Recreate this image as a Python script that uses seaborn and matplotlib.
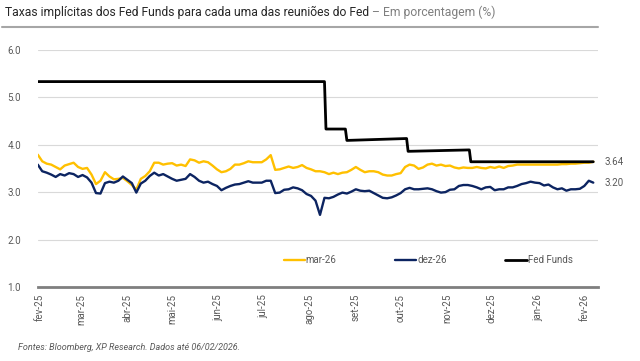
"""
Taxas implícitas dos Fed Funds (mar-26, dez-26) vs Fed Funds.
"""

import matplotlib
matplotlib.use("Agg")
import matplotlib.pyplot as plt
import matplotlib.ticker as mticker
import seaborn as sns
import pandas as pd

DATES = pd.date_range("2025-01-31", periods=125, freq="3D")

MAR26 = [3.79, 3.65, 3.60, 3.58, 3.53, 3.48, 3.56, 3.59, 3.62, 3.53,
         3.49, 3.51, 3.37, 3.17, 3.24, 3.42, 3.33, 3.27, 3.28, 3.30,
         3.23, 3.15, 3.05, 3.28, 3.34, 3.44, 3.62, 3.62, 3.58, 3.60,
         3.61, 3.56, 3.58, 3.55, 3.69, 3.67, 3.62, 3.65, 3.63, 3.56,
         3.48, 3.42, 3.44, 3.49, 3.58, 3.58, 3.61, 3.65, 3.63, 3.63,
         3.63, 3.69, 3.78, 3.47, 3.48, 3.51, 3.54, 3.51, 3.53, 3.57,
         3.51, 3.48, 3.44, 3.44, 3.42, 3.38, 3.41, 3.38, 3.41, 3.42,
         3.47, 3.53, 3.47, 3.42, 3.44, 3.44, 3.42, 3.37, 3.35, 3.35,
         3.38, 3.40, 3.53, 3.58, 3.56, 3.49, 3.52, 3.58, 3.60, 3.56,
         3.58, 3.55, 3.56, 3.52, 3.50, 3.52, 3.51, 3.51, 3.53, 3.51,
         3.50, 3.53, 3.51, 3.54, 3.51, 3.55, 3.56, 3.58, 3.58, 3.58,
         3.58, 3.58, 3.58, 3.58, 3.58, 3.58, 3.58, 3.59, 3.59, 3.60,
         3.60, 3.61, 3.62, 3.62, 3.64]

DEZ26 = [3.58, 3.44, 3.41, 3.37, 3.32, 3.38, 3.35, 3.40, 3.38, 3.32,
         3.36, 3.31, 3.20, 2.98, 2.97, 3.19, 3.22, 3.20, 3.24, 3.33,
         3.26, 3.19, 2.99, 3.18, 3.24, 3.34, 3.41, 3.35, 3.38, 3.33,
         3.28, 3.24, 3.26, 3.28, 3.38, 3.32, 3.24, 3.20, 3.22, 3.17,
         3.13, 3.04, 3.09, 3.13, 3.16, 3.17, 3.20, 3.23, 3.20, 3.20,
         3.20, 3.24, 3.24, 2.98, 2.99, 3.05, 3.06, 3.10, 3.08, 3.04,
         2.96, 2.92, 2.82, 2.52, 2.88, 2.87, 2.90, 2.95, 2.99, 2.97,
         3.01, 3.06, 3.03, 3.02, 3.03, 2.98, 2.93, 2.88, 2.87, 2.89,
         2.93, 2.98, 3.06, 3.09, 3.06, 3.06, 3.07, 3.08, 3.06, 3.02,
         2.99, 3.00, 3.05, 3.06, 3.13, 3.15, 3.15, 3.13, 3.10, 3.06,
         3.10, 3.11, 3.04, 3.06, 3.06, 3.10, 3.10, 3.13, 3.17, 3.19,
         3.22, 3.20, 3.19, 3.14, 3.16, 3.10, 3.06, 3.08, 3.03, 3.06,
         3.06, 3.07, 3.13, 3.24, 3.20]

# Fed Funds: daily series reduced to the days where it changes
FED_DATES = pd.to_datetime(["2025-01-31", "2025-08-11", "2025-08-12", "2025-08-25",
                            "2025-08-26", "2025-10-05", "2025-10-06", "2025-11-16",
                            "2025-11-17", "2026-02-07"])
FED_FUNDS = [5.33, 5.33, 4.33, 4.33, 4.09, 4.13, 3.86, 3.89, 3.64, 3.64]

TICK_DATES = pd.date_range("2025-02-01", "2026-02-01", freq="MS")
TICK_LABELS = ["fev-25", "mar-25", "abr-25", "mai-25", "jun-25", "jul-25", "ago-25",
               "set-25", "out-25", "nov-25", "dez-25", "jan-26", "fev-26"]

YELLOW = "#FFC000"
NAVY = "#0C2461"
GRAY = "#595959"

sns.set_theme(style="white")
plt.rcParams["font.family"] = ["Roboto", "DejaVu Sans"]

fig = plt.figure(figsize=(6.4, 3.61), dpi=100)
ax = fig.add_axes([0.059, 0.205, 0.875, 0.657])

sns.lineplot(x=DATES, y=MAR26, ax=ax, color=YELLOW, linewidth=1.7, label="mar-26")
sns.lineplot(x=DATES, y=DEZ26, ax=ax, color=NAVY, linewidth=1.7, label="dez-26")
sns.lineplot(x=FED_DATES, y=FED_FUNDS, ax=ax, color="black", linewidth=2.0,
             label="Fed Funds")

ax.set_ylim(1, 6)
ax.set_xlim(pd.Timestamp("2025-01-31"), pd.Timestamp("2026-02-10"))
ax.yaxis.set_major_locator(mticker.MultipleLocator(1))
ax.yaxis.set_major_formatter(mticker.FormatStrFormatter("%.1f"))
ax.set_xticks(TICK_DATES)
ax.set_xticklabels(TICK_LABELS, rotation=90)
ax.tick_params(axis="x", colors=GRAY, labelsize=7, length=3, width=0.8, pad=2)
ax.tick_params(axis="y", colors=GRAY, labelsize=7, length=0, pad=12)
ax.grid(axis="y", color="#d9d9d9", linewidth=0.8)
for side in ["top", "right", "left"]:
    ax.spines[side].set_visible(False)
ax.spines["bottom"].set_color("#7f7f7f")
ax.spines["bottom"].set_linewidth(2)
ax.set_xlabel("")
ax.set_ylabel("")

# end-of-series labels
ax.annotate(f"{FED_FUNDS[-1]:.2f}", xy=(FED_DATES[-1], FED_FUNDS[-1]), xytext=(8, 0),
            textcoords="offset points", va="center", fontsize=7, color=GRAY,
            annotation_clip=False)
ax.annotate(f"{DEZ26[-1]:.2f}", xy=(DATES[-1], DEZ26[-1]), xytext=(8, 0),
            textcoords="offset points", va="center", fontsize=7, color=GRAY,
            annotation_clip=False)

leg = ax.legend(loc="center", bbox_to_anchor=(428 / 640, 1 - 260 / 361),
                bbox_transform=fig.transFigure, ncol=3, frameon=False,
                handlelength=2.2, handletextpad=0.1, columnspacing=6, fontsize=7)
for t in leg.get_texts():
    t.set_color(GRAY)

# title + rule
fig.text(0.008, 0.965, "Taxas implícitas dos Fed Funds para cada uma das reuniões do Fed",
         fontsize=8.7, color="#262626", va="center", ha="left")
fig.canvas.draw()
t0 = fig.texts[0].get_window_extent()
fig.text((t0.x1 + 3) / 640, 0.965, "– Em porcentagem (%)", fontsize=8.7,
         color="#7f7f7f", va="center", ha="left")
fig.add_artist(plt.Line2D([0.003, 0.934], [0.925, 0.925], color="#a6a6a6",
                          linewidth=1.5, transform=fig.transFigure))

fig.text(0.028, 0.038, "Fontes: Bloomberg, XP Research. Dados até 06/02/2026.",
         fontsize=6.5, style="italic", color=GRAY, va="center", ha="left")

fig.savefig("out.png", dpi=100)
